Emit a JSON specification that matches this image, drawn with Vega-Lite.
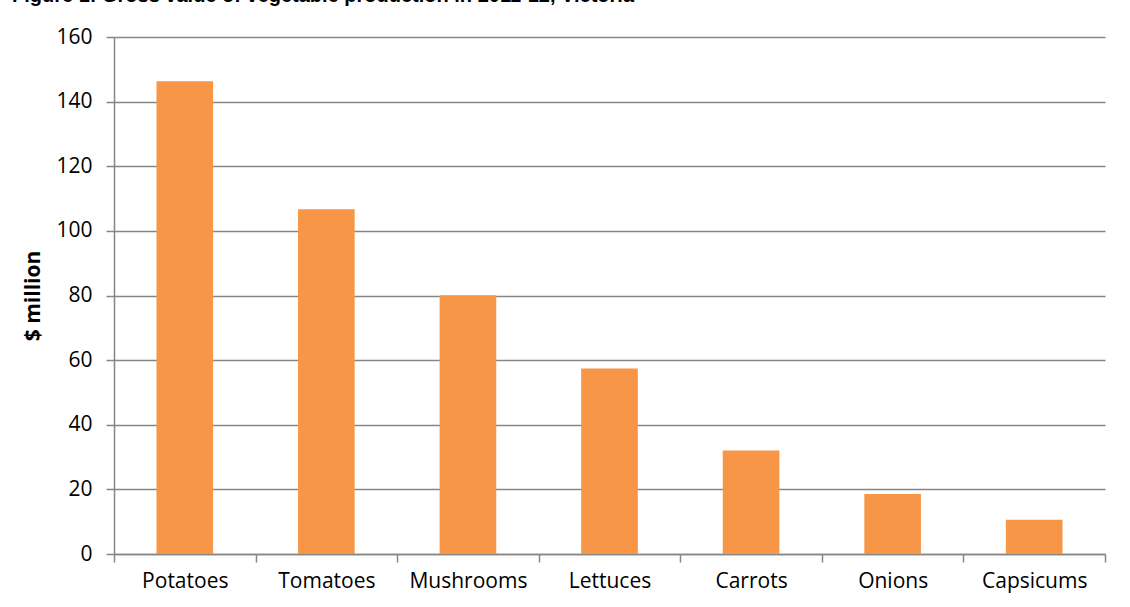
{
  "$schema": "https://vega.github.io/schema/vega-lite/v6.json",
  "width": 991,
  "height": 517,
  "autosize": "none",
  "padding": {"left": 114, "top": 37, "right": 25, "bottom": 53},
  "background": "white",
  "title": {
    "text": "Figure 1: Gross value of vegetable production in 2011-12, Victoria",
    "anchor": "start",
    "frame": "group",
    "font": "Liberation Sans",
    "fontSize": 20,
    "fontWeight": "bold",
    "color": "#000000",
    "baseline": "bottom",
    "offset": 0,
    "dx": -102
  },
  "config": {
    "view": {"stroke": null},
    "font": "Open Sans"
  },
  "data": {
    "values": [
      {"vegetable": "Potatoes", "value": 146.3},
      {"vegetable": "Tomatoes", "value": 106.7},
      {"vegetable": "Mushrooms", "value": 80.1},
      {"vegetable": "Lettuces", "value": 57.4},
      {"vegetable": "Carrots", "value": 32.0},
      {"vegetable": "Onions", "value": 18.6},
      {"vegetable": "Capsicums", "value": 10.6}
    ]
  },
  "mark": {"type": "bar", "color": "#F79646", "width": {"band": 0.4}},
  "encoding": {
    "x": {
      "field": "vegetable",
      "type": "nominal",
      "sort": null,
      "scale": {"paddingInner": 0, "paddingOuter": 0},
      "axis": {
        "title": null,
        "labelAngle": 0,
        "labelFont": "Open Sans",
        "labelFontSize": 21,
        "labelColor": "#000000",
        "labelPadding": 8,
        "tickBand": "extent",
        "tickColor": "#868686",
        "tickSize": 8,
        "tickWidth": 1.5,
        "domainColor": "#868686",
        "domainWidth": 1.5
      }
    },
    "y": {
      "field": "value",
      "type": "quantitative",
      "scale": {"domain": [0, 160], "nice": false},
      "axis": {
        "title": "$ million",
        "titleFont": "Open Sans",
        "titleFontSize": 21,
        "titleFontWeight": "bold",
        "titleColor": "#000000",
        "titlePadding": 12,
        "values": [0, 20, 40, 60, 80, 100, 120, 140, 160],
        "labelFont": "Open Sans",
        "labelFontSize": 21,
        "labelColor": "#000000",
        "labelPadding": 14,
        "tickColor": "#868686",
        "tickSize": 8,
        "tickWidth": 1.5,
        "domainColor": "#868686",
        "domainWidth": 1.5,
        "grid": true,
        "gridColor": "#868686",
        "gridWidth": 1.5
      }
    }
  }
}
